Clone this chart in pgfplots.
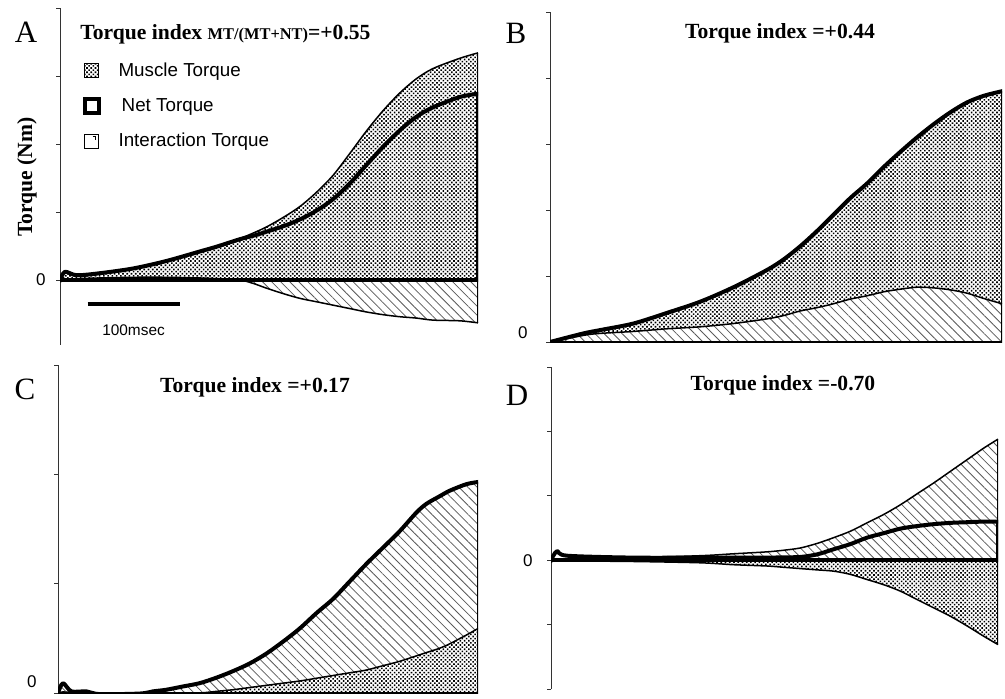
\documentclass[border=0pt]{standalone}
\usepackage{fontspec}
\setmainfont{Liberation Serif}
\newfontfamily\arial{Liberation Sans}
\usepackage{pgfplots}
\usepackage{pgfplotstable}
\pgfplotsset{compat=1.18}
\usepgfplotslibrary{fillbetween}
\usetikzlibrary{patterns.meta}

% ---------------------------------------------------------------
% Torque traces (Nm, arbitrary scale per panel) against time (ms)
% mt = muscle torque, nt = net torque, it = interaction torque
% ---------------------------------------------------------------
\pgfplotstableread{
t mt nt it
0 0 0 0
5.4 0.12 0.12 0.01
18.1 0.06 0.07 0.02
43.5 0.09 0.10 0.03
79.7 0.16 0.17 0.04
115.9 0.27 0.28 0.04
152.2 0.41 0.42 0.03
170.3 0.49 0.49 0.02
195.7 0.61 0.60 0
210.1 0.69 0.65 -0.05
224.6 0.78 0.71 -0.12
242.8 0.92 0.79 -0.20
260.9 1.08 0.89 -0.27
279.0 1.29 1.02 -0.32
297.1 1.54 1.19 -0.37
315.2 1.86 1.42 -0.42
333.3 2.19 1.69 -0.47
351.4 2.49 1.96 -0.51
369.6 2.75 2.20 -0.54
387.7 2.96 2.40 -0.56
405.8 3.11 2.54 -0.59
434.8 3.26 2.69 -0.60
454.7 3.34 2.74 -0.63
}\tabA

\pgfplotstableread{
t nt it
0 0 0
36.2 0.13 0.10
54.3 0.18 0.13
90.6 0.28 0.16
126.8 0.44 0.20
163.0 0.61 0.23
199.3 0.83 0.28
235.5 1.09 0.35
253.6 1.25 0.40
271.7 1.45 0.47
289.9 1.68 0.52
308.0 1.93 0.58
326.1 2.18 0.65
344.2 2.40 0.70
362.3 2.65 0.76
380.4 2.88 0.80
398.6 3.10 0.83
416.7 3.30 0.82
434.8 3.48 0.79
452.9 3.63 0.74
471.0 3.73 0.66
490.9 3.80 0.58
}\tabB

\pgfplotstableread{
t mt nt
0 0 0
5.4 0.01 0.09
14.5 0.005 0.015
30.8 0 0.015
45.3 -0.01 -0.01
88.8 -0.01 -0.005
103.3 -0.005 0.015
117.8 0 0.03
135.9 0 0.06
154.0 0 0.09
172.1 0.015 0.14
190.2 0.03 0.20
208.3 0.05 0.27
226.4 0.07 0.36
244.6 0.09 0.47
262.7 0.11 0.59
280.8 0.135 0.73
298.9 0.16 0.86
317.0 0.185 1.02
335.1 0.21 1.18
353.3 0.25 1.33
371.4 0.29 1.48
389.5 0.34 1.65
400.4 0.37 1.73
414.9 0.41 1.80
425.7 0.45 1.85
443.8 0.53 1.91
456.5 0.59 1.93
}\tabC

\pgfplotstableread{
t mt nt it
0 0 0 0
6.5 0 0.14 0.01
17.4 -0.01 0.07 0.02
89.9 -0.02 0.04 0.04
162.3 -0.04 0.04 0.07
198.6 -0.07 0.04 0.10
234.8 -0.09 0.04 0.13
253.0 -0.11 0.045 0.155
271.0 -0.13 0.05 0.19
289.1 -0.15 0.09 0.26
307.2 -0.17 0.17 0.35
325.4 -0.22 0.25 0.45
343.5 -0.30 0.35 0.58
361.6 -0.38 0.42 0.71
379.7 -0.48 0.49 0.86
397.8 -0.61 0.53 1.03
416.0 -0.74 0.56 1.20
434.1 -0.87 0.58 1.38
452.2 -1.02 0.59 1.56
470.3 -1.18 0.60 1.74
485.9 -1.31 0.60 1.88
}\tabD

\tikzset{
  mtfill/.style={pattern={Dots[distance=1.5pt,radius=0.56pt,angle=45]},pattern color=black},
  itfill/.style={pattern={Lines[angle=-45,distance=3.2pt,line width=0.4pt]},pattern color=black!65},
}
\pgfplotsset{
  panel/.style={
    scale only axis,
    axis x line=none,
    axis y line*=left,
    y axis line style={line width=0.4pt,black!80},
    tick align=outside,
    major tick length=2pt,
    ytick style={line width=0.4pt,black!80},
    yticklabel style={font=\arial\fontsize{8.5}{10}\selectfont,anchor=east,inner sep=0pt},
    xmin=0,
  },
  trace/.style={smooth,tension=0.5},
  thin curve/.style={line width=0.75pt,black,line join=round},
  net curve/.style={line width=2pt,black,line join=round,line cap=rect},
}

\newcommand\titlefont{\fontsize{10.8}{13}\selectfont\bfseries}
\newcommand\letterfont{\fontsize{15.5}{18}\selectfont}

\begin{document}
\begin{tikzpicture}

% ---------------- A ----------------
\begin{axis}[panel, at={(30pt,176.7pt)}, anchor=south west,
  width=209pt, height=168.3pt, xmax=454.7, ymin=-0.95, ymax=4,
  ytick={0,1,2,3,4}, yticklabels={0,,,,}, yticklabel style={xshift=-5pt},
  legend style={at={(0.053,0.845)}, anchor=north west, draw=none, fill=none,
    font=\arial\fontsize{9.4}{11}\selectfont, row sep=7.5pt, column sep=8pt,
    inner sep=0pt, nodes={inner sep=1pt}},
  legend cell align=left]
\addplot[draw=none, name path=zA, forget plot] coordinates {(0,0) (454.7,0)};
\addplot[draw=none, trace, name path=mtA, forget plot] table[x=t,y=mt] {\tabA};
\addplot[draw=none, trace, name path=itA, forget plot] table[x=t,y=it] {\tabA};
\addplot[mtfill, forget plot] fill between[of=mtA and zA];
\addplot[itfill, forget plot] fill between[of=itA and zA];
\addplot[thin curve, trace, forget plot] table[x=t,y=mt] {\tabA};
\addplot[thin curve, trace, forget plot] table[x=t,y=it] {\tabA};
\addplot[thin curve, forget plot] coordinates {(454.7,-0.63) (454.7,3.34)};
\addplot[net curve, trace, forget plot] table[x=t,y=nt] {\tabA};
\addplot[net curve, forget plot] coordinates {(454.7,2.74) (454.7,0) (0,0)};
% 100 ms scale bar
\addplot[line width=2pt, forget plot] coordinates {(30,-0.36) (131,-0.36)};
\node[font=\arial\fontsize{7.7}{9}\selectfont, anchor=base] at (axis cs:80,-0.81) {100msec};
\addlegendimage{legend image code/.code={\draw[line width=0.6pt,mtfill] (0pt,-3.5pt) rectangle (7pt,3.5pt);}}
\addlegendentry{Muscle Torque}
\addlegendimage{legend image code/.code={\draw[line width=2pt,fill=white] (0pt,-3.2pt) rectangle (7pt,3.8pt);}}
\addlegendentry{\,Net Torque}
\addlegendimage{legend image code/.code={\draw[line width=0.6pt,fill=white] (0pt,-3.5pt) rectangle (7pt,3.5pt);
  \draw[line width=0.6pt] (4pt,2.4pt) -- (5.6pt,2.4pt) -- (5.6pt,0.6pt);}}
\addlegendentry{Interaction Torque}
\end{axis}

% ---------------- B ----------------
\begin{axis}[panel, at={(275pt,178pt)}, anchor=south west,
  width=226pt, height=165pt, xmax=490.9, ymin=0, ymax=5,
  ytick={0,1,2,3,4,5}, yticklabels={0,,,,,}, yticklabel style={xshift=-9pt,yshift=4.5pt}]
\addplot[draw=none, name path=zB] coordinates {(0,0) (490.9,0)};
\addplot[draw=none, trace, name path=itB] table[x=t,y=it] {\tabB};
\addplot[draw=none, trace, name path=ntB] table[x=t,y=nt] {\tabB};
\addplot[itfill] fill between[of=itB and zB];
\addplot[mtfill] fill between[of=ntB and itB];
\addplot[thin curve, trace] table[x=t,y=it] {\tabB};
\addplot[thin curve] coordinates {(490.9,3.80) (490.9,0) (0,0)};
\addplot[net curve, trace] table[x=t,y=nt] {\tabB};
\end{axis}

% ---------------- C ----------------
\begin{axis}[panel, at={(29pt,2.5pt)}, anchor=south west,
  width=210pt, height=164pt, xmax=456.5, ymin=0, ymax=3,
  ytick={0,1,2,3}, yticklabels={0,,,}, yticklabel style={xshift=-8.5pt,yshift=5.5pt}]
\addplot[draw=none, name path=zC] coordinates {(0,0) (456.5,0)};
\addplot[draw=none, trace, name path=mtC] table[x=t,y=mt] {\tabC};
\addplot[draw=none, trace, name path=ntC] table[x=t,y=nt] {\tabC};
\addplot[mtfill] fill between[of=mtC and zC];
\addplot[itfill] fill between[of=ntC and mtC];
\addplot[thin curve, trace] table[x=t,y=mt] {\tabC};
\addplot[thin curve] coordinates {(456.5,1.93) (456.5,0) (0,0)};
\addplot[net curve, trace] table[x=t,y=nt] {\tabC};
\end{axis}

% ---------------- D ----------------
\begin{axis}[panel, at={(275.5pt,4.5pt)}, anchor=south west,
  width=223.5pt, height=161pt, xmax=485.9, ymin=-2, ymax=3,
  ytick={-2,-1,0,1,2,3}, yticklabels={,,0,,,}, yticklabel style={xshift=-7pt}]
\addplot[draw=none, name path=zD] coordinates {(0,0) (485.9,0)};
\addplot[draw=none, trace, name path=mtD] table[x=t,y=mt] {\tabD};
\addplot[draw=none, trace, name path=itD] table[x=t,y=it] {\tabD};
\addplot[mtfill] fill between[of=mtD and zD];
\addplot[itfill] fill between[of=itD and zD];
\addplot[thin curve, trace] table[x=t,y=mt] {\tabD};
\addplot[thin curve, trace] table[x=t,y=it] {\tabD};
\addplot[thin curve] coordinates {(485.9,-1.31) (485.9,1.88)};
\addplot[net curve, trace] table[x=t,y=nt] {\tabD};
\addplot[net curve] coordinates {(485.9,0.60) (485.9,0) (0,0)};
\end{axis}

% panel letters, titles and axis label
\node[font=\letterfont, anchor=base] at (13pt,327.5pt) {A};
\node[font=\letterfont, anchor=base] at (258pt,327pt) {B};
\node[font=\letterfont, anchor=base] at (12.5pt,149.5pt) {C};
\node[font=\letterfont, anchor=base] at (258.5pt,146.5pt) {D};
\node[font=\titlefont, anchor=base west, inner sep=0pt] at (40pt,329pt)
  {Torque index {\fontsize{8.2}{10}\selectfont MT/(MT+NT)}=+0.55};
\node[font=\titlefont, anchor=base] at (390pt,330pt) {Torque index =+0.44};
\node[font=\titlefont, anchor=base] at (127.5pt,153pt) {Torque index =+0.17};
\node[font=\titlefont, anchor=base] at (391.5pt,154pt) {Torque index =-0.70};
\node[font=\titlefont, rotate=90] at (13.5pt,260.5pt) {Torque (Nm)};

% page frame
\pgfresetboundingbox
\path[use as bounding box] (0pt,0pt) rectangle (502.5pt,349pt);
\end{tikzpicture}
\end{document}
